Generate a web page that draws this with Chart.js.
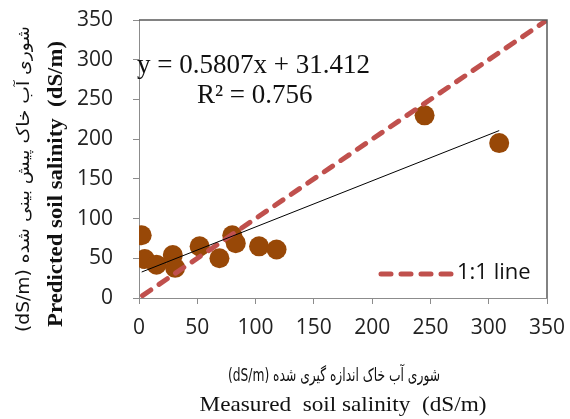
<!DOCTYPE html>
<html>
<head>
<meta charset="utf-8">
<script src="https://cdn.jsdelivr.net/npm/chart.js@4.4.1/dist/chart.umd.min.js"></script>
<style>
  html, body { margin: 0; padding: 0; background: #fff; }
  canvas { display: block; }
</style>
</head>
<body>
<canvas id="salinity" width="570" height="419"></canvas>
<script>
// measured vs predicted soil salinity
const measured = [2.3, 5, 15, 29, 31, 52, 69, 80, 83, 103, 118, 245, 309];
const predicted = [79, 49, 42, 54, 38, 65, 50, 79, 69, 65, 61, 230, 195];

// fitted trend line ends, y = 0.5807x + 31.412
const trendX = [2.3, 309];
const trendY = [32.7, 210.8];

// 1:1 reference line
const oneX = [3, 350];
const oneY = [3, 350];

const tickValues = [0, 50, 100, 150, 200, 250, 300, 350];

const toPts = (xs, ys) => xs.map((x, i) => ({ x, y: ys[i] }));

const tickFont = { family: 'Open Sans', size: 21 };
const axisGrey = '#8c8c8c';

// draw text squeezed/stretched to a given length
function fitText(ctx, txt, x, y, len, rot) {
  ctx.save();
  ctx.translate(x, y);
  if (rot) ctx.rotate(rot);
  const w = ctx.measureText(txt).width;
  ctx.scale(len / w, 1);
  ctx.fillText(txt, 0, 0);
  ctx.restore();
}

const extras = {
  id: 'extras',
  afterDraw(chart) {
    const { ctx, chartArea: a } = chart;
    ctx.save();
    // plot border top + right
    ctx.strokeStyle = '#5a5a5a';
    ctx.lineWidth = 1.5;
    ctx.beginPath();
    ctx.moveTo(a.left, a.top);
    ctx.lineTo(a.right, a.top);
    ctx.lineTo(a.right, a.bottom);
    ctx.stroke();

    ctx.fillStyle = '#111';
    // equation
    ctx.font = '27px "Liberation Serif"';
    ctx.textBaseline = 'alphabetic';
    ctx.textAlign = 'left';
    ctx.fillText('y = 0.5807x + 31.412', 137, 73);
    ctx.fillText('R² = 0.756', 197, 103);

    // legend
    ctx.strokeStyle = '#C0504D';
    ctx.lineWidth = 5;
    ctx.lineCap = 'round';
    ctx.setLineDash([10, 10]);
    ctx.beginPath();
    ctx.moveTo(381, 274);
    ctx.lineTo(451, 274);
    ctx.stroke();
    ctx.setLineDash([]);
    ctx.font = '22px "Open Sans"';
    ctx.textBaseline = 'middle';
    ctx.fillText('1:1 line', 457, 273);

    // x titles
    ctx.textAlign = 'center';
    ctx.direction = 'rtl';
    ctx.font = '18px "DejaVu Sans"';
    fitText(ctx, 'شوری آب خاک اندازه گیری شده (dS/m)', 334, 376, 212, 0);
    ctx.direction = 'ltr';
    ctx.font = '22px "Liberation Serif"';
    fitText(ctx, 'Measured  soil salinity  (dS/m)', 343, 405, 287, 0);

    // y titles
    ctx.direction = 'rtl';
    ctx.font = '17px "DejaVu Sans"';
    fitText(ctx, 'شوری آب خاک پیش بینی شده (dS/m)', 25, 179, 306, -Math.PI / 2);
    ctx.direction = 'ltr';
    ctx.font = 'bold 21px "Liberation Serif"';
    fitText(ctx, 'Predicted soil salinity  (dS/m)', 57, 184, 286, -Math.PI / 2);
    ctx.restore();
  }
};

const axisOpts = {
  type: 'linear',
  min: 0,
  max: 350,
  afterBuildTicks: (s) => { s.ticks = tickValues.map(v => ({ value: v })); },
  grid: { drawOnChartArea: false, tickLength: 6, color: axisGrey },
  border: { color: axisGrey, width: 1 },
  ticks: { font: tickFont, color: '#222' }
};

new Chart(document.getElementById('salinity'), {
  type: 'scatter',
  data: {
    datasets: [
      {
        label: 'trend',
        type: 'line',
        data: toPts(trendX, trendY),
        borderColor: '#000',
        borderWidth: 1,
        pointRadius: 0,
        order: 0
      },
      {
        label: '1:1 line',
        type: 'line',
        data: toPts(oneX, oneY),
        borderColor: '#C0504D',
        borderWidth: 5,
        borderDash: [10, 10],
        borderCapStyle: 'round',
        pointRadius: 0,
        order: 1
      },
      {
        label: 'data',
        data: toPts(measured, predicted),
        backgroundColor: '#984807',
        borderWidth: 0,
        pointRadius: 10,
        order: 2
      }
    ]
  },
  options: {
    responsive: false,
    animation: false,
    devicePixelRatio: 1,
    layout: { autoPadding: false, padding: { left: 0, top: 20, right: 23, bottom: 0 } },
    plugins: { legend: { display: false }, tooltip: { enabled: false } },
    scales: {
      x: {
        ...axisOpts,
        ticks: { ...axisOpts.ticks, padding: 11, maxRotation: 0 },
        afterFit: (s) => {
          s.height = 121;
          s.paddingLeft = 0;
          s.paddingRight = 0;
        }
      },
      y: {
        ...axisOpts,
        ticks: { ...axisOpts.ticks, padding: 20 },
        afterFit: (s) => {
          s.width = 139;
          s.paddingTop = 0;
          s.paddingBottom = 0;
        }
      }
    }
  },
  plugins: [extras]
});
</script>
</body>
</html>
